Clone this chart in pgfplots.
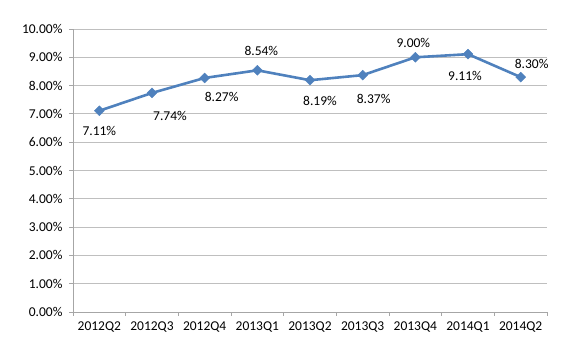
\documentclass[border=0pt]{standalone}
\usepackage{fontspec}
\setmainfont{Carlito}
\usepackage{pgfplots}
\usepackage{pgfplotstable}
\pgfplotsset{compat=1.18}
\definecolor{lineblue}{HTML}{4F81BD}
\definecolor{gridgray}{HTML}{BFBFBF}
\definecolor{axgray}{HTML}{A6A6A6}
\pgfplotstableread{
x y dx dy
0 7.11 0 -20
1 7.74 18 -23
2 8.27 17 -19
3 8.54 4 19
4 8.19 10 -21
5 8.37 11 -24
6 9.00 -2 14
7 9.11 -3 -22
8 8.30 11 13
}\datatable
\begin{document}
\begin{tikzpicture}
\path[use as bounding box] (0pt,0pt) rectangle (573pt,358pt);
\begin{axis}[
  at={(73pt,46pt)}, anchor=south west,
  scale only axis, width=474pt, height=283pt,
  xmin=-0.5, xmax=8.5, ymin=0, ymax=10,
  axis x line*=bottom, axis y line*=left,
  axis line style={axgray, line width=0.8pt},
  xtick={0,...,8},
  xticklabels={2012Q2,2012Q3,2012Q4,2013Q1,2013Q2,2013Q3,2013Q4,2014Q1,2014Q2},
  minor xtick={-0.5,0.5,...,8.5},
  major x tick style={draw=none},
  minor x tick style={axgray, line width=0.8pt},
  tick align=outside,
  minor tick length=4pt,
  major tick length=4pt,
  ytick={0,1,...,10},
  yticklabel={\pgfmathprintnumber[fixed,fixed zerofill,precision=2]{\tick}\%},
  /pgf/number format/assume math mode=true,
  y tick style={axgray, line width=0.8pt},
  ymajorgrids,
  major grid style={gridgray, line width=0.8pt},
  tick label style={font=\fontsize{13.5}{15}\selectfont, black},
  xticklabel style={yshift=-2pt},
  yticklabel style={xshift=-3pt},
  nodes near coords={\pgfmathprintnumber[fixed,fixed zerofill,precision=2]{\pgfplotspointmeta}\%},
  point meta=explicit,
  visualization depends on={\thisrow{dx} \as \mydx},
  visualization depends on={\thisrow{dy} \as \mydy},
  every node near coord/.append style={anchor=center, xshift=\mydx, yshift=\mydy, font=\fontsize{13.5}{15}\selectfont, black, /pgf/number format/assume math mode=true},
  clip=false,
]
\addplot[lineblue, line width=2.6pt, mark=square*, mark size=3.5pt, mark options={line width=0.4pt, fill=lineblue, rotate=45}] table[x=x, y=y, meta=y] {\datatable};
\end{axis}
\end{tikzpicture}
\end{document}
